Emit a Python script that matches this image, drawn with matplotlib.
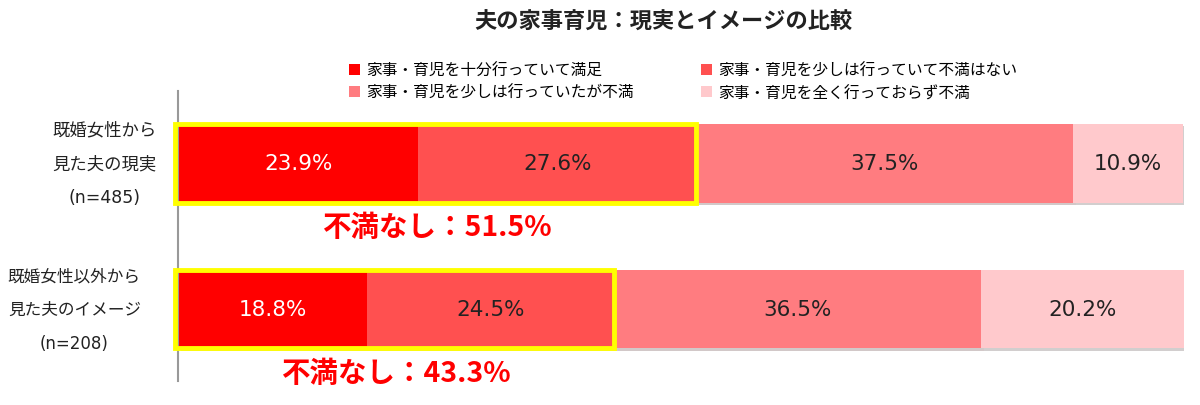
import numpy as np
import matplotlib.pyplot as plt
import matplotlib.patheffects as pe
from matplotlib.patches import Rectangle, Patch

plt.rcParams['font.family'] = ['Noto Sans CJK JP', 'DejaVu Sans']

title = '夫の家事育児：現実とイメージの比較'
groups = ['既婚女性から\n見た夫の現実\n(n=485)', '既婚女性以外から\n見た夫のイメージ\n(n=208)']
series = ['家事・育児を十分行っていて満足', '家事・育児を少しは行っていて不満はない',
          '家事・育児を少しは行っていたが不満', '家事・育児を全く行っておらず不満']
values = np.array([[23.9, 27.6, 37.5, 10.9],
                   [18.8, 24.5, 36.5, 20.2]])
colors = ['#FF0000', '#FF5050', '#FF7C80', '#FFC9CC']
text_colors = ['white', '#222222', '#222222', '#222222']

fig = plt.figure(figsize=(12, 4.06), dpi=100)
ax = fig.add_axes([0.1483, 0.059, 0.8384, 0.714])

y = np.arange(len(groups))
h = 0.54
left = np.zeros(len(groups))
shadow = [pe.SimplePatchShadow(offset=(2, -2), alpha=0.25), pe.Normal()]
for i, s in enumerate(series):
    bars = ax.barh(y, values[:, i], left=left, height=h, color=colors[i], zorder=2)
    for b in bars:
        b.set_path_effects(shadow)
    for j in range(len(groups)):
        ax.text(left[j] + values[j, i] / 2, y[j], f'{values[j, i]:.1f}%',
                ha='center', va='center', fontsize=15.5, color=text_colors[i],
                family=['DejaVu Sans'], zorder=4)
    left += values[:, i]

# highlight "no dissatisfaction" share
for j in range(len(groups)):
    ok = values[j, 0] + values[j, 1]
    ax.add_patch(Rectangle((-0.3, y[j] - h / 2), ok + 0.3, h, fill=False,
                           edgecolor='#FFFF00', linewidth=3.5, zorder=5,
                           clip_on=False))
    ax.text(ok / 2, y[j] + h / 2 + 0.17, f'不満なし：{ok:.1f}%', ha='center',
            va='center', fontsize=20.5, fontweight='bold', color='#FF0000')

ax.set_xlim(0, 100)
ax.set_ylim(1.493, -0.493)
ax.set_xticks([])
ax.set_yticks([])
for sp in ['top', 'right', 'bottom']:
    ax.spines[sp].set_visible(False)
ax.spines['left'].set_color('#999999')
ax.spines['left'].set_linewidth(1.5)

label_x = [-0.073, -0.103]
sizes = [12.5, 12]
for j, g in enumerate(groups):
    ax.text(label_x[j], y[j], g, transform=ax.get_yaxis_transform(),
            ha='center', va='center', multialignment='center',
            fontsize=sizes[j], linespacing=2.15, color='#222222',
            family=['DejaVu Sans', 'Noto Sans CJK JP'])

fig.text(0.553, 0.945, title, ha='center', va='center', fontsize=16,
         fontweight='bold', color='#222222')

order = [0, 2, 1, 3]
handles = [Patch(facecolor=colors[k]) for k in order]
fig.legend(handles=handles, labels=[series[k] for k in order], ncol=2,
           loc='upper left', bbox_to_anchor=(0.279, 0.88), frameon=False,
           fontsize=11.3, handlelength=0.7, handleheight=0.7,
           handletextpad=0.4, columnspacing=4.3, labelspacing=0.35)

plt.savefig('out.png')
